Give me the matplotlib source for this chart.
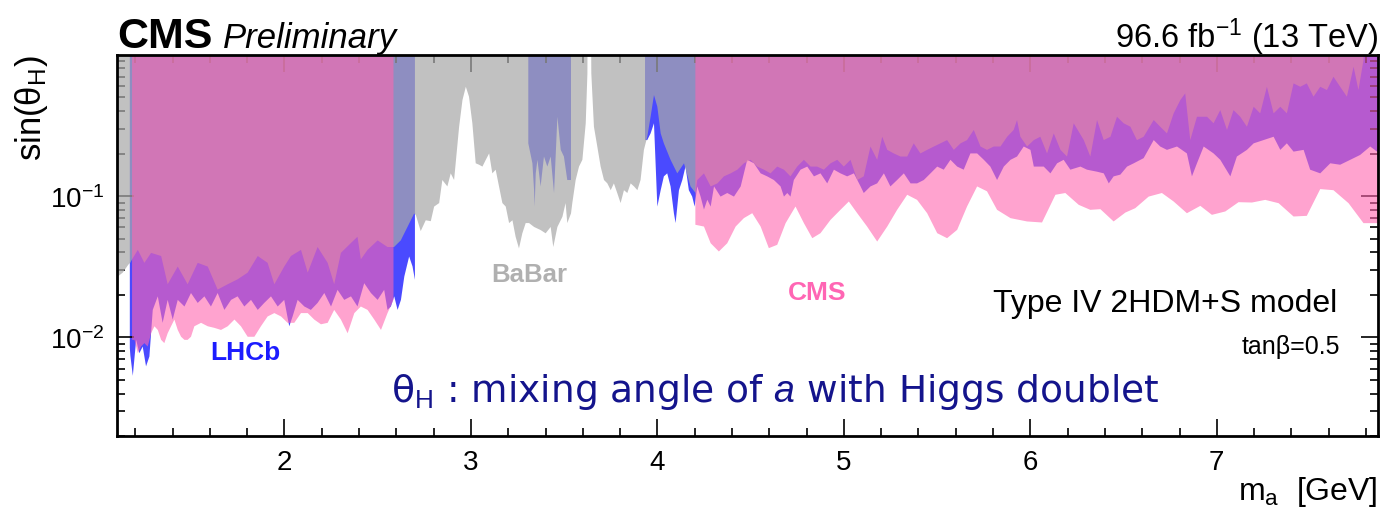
import numpy as np
import matplotlib
matplotlib.use("Agg")
import matplotlib.pyplot as plt
from matplotlib.ticker import MultipleLocator, LogLocator, NullFormatter

plt.rcParams['font.family'] = ['Liberation Sans', 'DejaVu Sans']
plt.rcParams['mathtext.fontset'] = 'custom'
plt.rcParams['mathtext.rm'] = 'Liberation Sans'
plt.rcParams['mathtext.it'] = 'Liberation Sans:italic'
plt.rcParams['mathtext.bf'] = 'Liberation Sans:bold'

# BaBar: excluded above this curve
babar_x = [1.100, 1.130, 1.160, 1.170, 1.180, 1.211, 1.246, 1.282, 1.336, 1.371,
           1.425, 1.478, 1.532, 1.586, 1.639, 1.693, 1.746, 1.800, 1.854, 1.907,
           1.943, 1.996, 2.032, 2.086, 2.122, 2.175, 2.229, 2.264, 2.300, 2.354,
           2.389, 2.407, 2.443, 2.497, 2.550, 2.585, 2.621, 2.657, 2.693, 2.702,
           2.728, 2.755, 2.782, 2.800, 2.827, 2.844, 2.871, 2.889, 2.907, 2.934,
           2.952, 2.970, 2.987, 3.005, 3.023, 3.041, 3.059, 3.077, 3.095, 3.112,
           3.130, 3.148, 3.166, 3.184, 3.202, 3.220, 3.237, 3.255, 3.273, 3.291,
           3.309, 3.336, 3.371, 3.398, 3.425, 3.439, 3.461, 3.488, 3.505, 3.514,
           3.534, 3.541, 3.559, 3.577, 3.595, 3.613, 3.622, 3.623, 3.641, 3.643,
           3.657, 3.675, 3.693, 3.711, 3.729, 3.747, 3.764, 3.782, 3.800, 3.818,
           3.836, 3.854, 3.872, 3.890, 3.907, 3.925, 3.943, 3.961, 3.979, 3.997,
           4.015, 4.032, 4.068, 4.104, 4.140, 4.175, 4.202, 4.211, 4.247, 4.283,
           4.319, 4.354, 4.390, 4.426, 4.461, 4.497, 4.533, 4.569, 4.604, 4.640,
           4.676, 4.711, 4.747, 4.783, 4.819, 4.854, 4.890, 4.926, 4.962, 4.997,
           5.033, 5.069, 5.104, 5.140, 5.176, 5.203, 5.230, 5.265, 5.301, 5.337,
           5.372, 5.408, 5.444, 5.480, 5.515, 5.551, 5.587, 5.623, 5.658, 5.694,
           5.730, 5.765, 5.801, 5.837, 5.873, 5.908, 5.926, 5.944, 5.980, 6.016,
           6.051, 6.087, 6.123, 6.159, 6.194, 6.230, 6.284, 6.319, 6.355, 6.391,
           6.427, 6.462, 6.498, 6.534, 6.569, 6.605, 6.659, 6.694, 6.730, 6.766,
           6.802, 6.828, 6.855, 6.891, 6.945, 6.980, 7.016, 7.052, 7.087, 7.123,
           7.159, 7.195, 7.230, 7.266, 7.302, 7.338, 7.373, 7.409, 7.445, 7.480,
           7.516, 7.552, 7.588, 7.623, 7.659, 7.695, 7.731, 7.757, 7.784, 7.793, 7.870]
babar_y = [0.027, 0.029, 0.033, 0.034, 0.036, 0.042, 0.034, 0.040, 0.038, 0.024,
           0.032, 0.024, 0.034, 0.032, 0.022, 0.024, 0.026, 0.029, 0.038, 0.034,
           0.024, 0.032, 0.038, 0.042, 0.029, 0.044, 0.034, 0.024, 0.040, 0.047,
           0.052, 0.036, 0.042, 0.049, 0.044, 0.044, 0.049, 0.061, 0.076, 0.074,
           0.057, 0.068, 0.067, 0.085, 0.090, 0.131, 0.118, 0.146, 0.131, 0.312,
           0.482, 0.598, 0.509, 0.330, 0.172, 0.168, 0.163, 0.182, 0.202, 0.146,
           0.155, 0.118, 0.090, 0.085, 0.065, 0.068, 0.052, 0.043, 0.055, 0.065,
           0.065, 0.061, 0.058, 0.055, 0.061, 0.044, 0.061, 0.072, 0.090, 0.065,
           0.076, 0.090, 0.131, 0.163, 0.182, 0.330, 0.743, 2.0, 2.0, 0.743,
           0.312, 0.226, 0.163, 0.131, 0.124, 0.111, 0.124, 0.106, 0.090, 0.111,
           0.106, 0.124, 0.118, 0.111, 0.131, 0.214, 0.265, 0.367, 0.523, 0.432,
           0.280, 0.238, 0.182, 0.146, 0.172, 0.118, 0.106, 0.131, 0.146, 0.118,
           0.124, 0.139, 0.146, 0.155, 0.172, 0.182, 0.163, 0.155, 0.146, 0.163,
           0.155, 0.139, 0.163, 0.182, 0.163, 0.163, 0.155, 0.172, 0.182, 0.163,
           0.182, 0.131, 0.139, 0.226, 0.182, 0.265, 0.214, 0.202, 0.192, 0.192,
           0.238, 0.202, 0.214, 0.226, 0.238, 0.251, 0.214, 0.238, 0.251, 0.296,
           0.226, 0.214, 0.226, 0.226, 0.265, 0.296, 0.348, 0.265, 0.226, 0.251,
           0.265, 0.202, 0.280, 0.214, 0.192, 0.330, 0.251, 0.192, 0.348, 0.251,
           0.265, 0.367, 0.330, 0.312, 0.251, 0.265, 0.348, 0.312, 0.280, 0.388,
           0.482, 0.537, 0.251, 0.367, 0.367, 0.330, 0.409, 0.296, 0.409, 0.367,
           0.312, 0.432, 0.388, 0.598, 0.388, 0.432, 0.388, 0.632, 0.598, 0.632,
           0.509, 0.598, 0.567, 0.704, 0.598, 0.509, 0.829, 0.567, 0.923, 2.0, 2.0]

# LHCb: three mass windows
lhcb_x1 = [1.168, 1.171, 1.184, 1.202, 1.219, 1.237, 1.255, 1.273, 1.291, 1.318,
           1.344, 1.371, 1.398, 1.425, 1.461, 1.496, 1.532, 1.568, 1.603, 1.639,
           1.675, 1.711, 1.746, 1.782, 1.818, 1.854, 1.889, 1.925, 1.961, 1.996,
           2.023, 2.041, 2.068, 2.104, 2.139, 2.175, 2.211, 2.247, 2.282, 2.318,
           2.354, 2.389, 2.425, 2.461, 2.497, 2.532, 2.550, 2.568, 2.586, 2.604,
           2.622, 2.640, 2.666, 2.684, 2.697]
lhcb_y1 = [0.0085, 0.0075, 0.0054, 0.0097, 0.0078, 0.0087, 0.0063, 0.0074, 0.0158, 0.0197,
           0.0128, 0.0186, 0.0135, 0.0186, 0.0167, 0.0208, 0.0177, 0.0197, 0.0167, 0.0208,
           0.0158, 0.0186, 0.0197, 0.0167, 0.0186, 0.0158, 0.0177, 0.0197, 0.0167, 0.0186,
           0.0121, 0.0142, 0.0186, 0.0167, 0.0158, 0.0177, 0.0208, 0.0167, 0.0219, 0.0186,
           0.0197, 0.0167, 0.0244, 0.0208, 0.0186, 0.0219, 0.0158, 0.0167, 0.0197, 0.0158,
           0.0186, 0.0272, 0.0377, 0.0321, 0.0258]
lhcb_x2 = [3.305, 3.327, 3.336, 3.339, 3.345, 3.354, 3.371, 3.389, 3.407, 3.425,
           3.443, 3.461, 3.479, 3.496, 3.514, 3.534]
lhcb_y2 = [0.238, 0.172, 0.111, 0.085, 0.146, 0.182, 0.118, 0.192, 0.163, 0.192,
           0.106, 0.367, 0.214, 0.192, 0.131, 0.131]
lhcb_x3 = [3.931, 3.943, 3.961, 3.979, 3.997, 4.015, 4.032, 4.050, 4.068, 4.086,
           4.095, 4.113, 4.131, 4.148, 4.166, 4.184, 4.197, 4.211, 4.229, 4.247,
           4.265, 4.283, 4.301, 4.336, 4.372, 4.408, 4.444, 4.479, 4.515, 4.551,
           4.586, 4.622, 4.658, 4.676, 4.694, 4.711, 4.729, 4.765, 4.801, 4.837,
           4.872, 4.908, 4.944, 4.979, 5.015, 5.051, 5.087, 5.104, 5.140, 5.176,
           5.212, 5.247, 5.283, 5.319, 5.355, 5.390, 5.426, 5.462, 5.498, 5.533,
           5.569, 5.605, 5.640, 5.676, 5.712, 5.748, 5.783, 5.819, 5.855, 5.891,
           5.926, 5.962, 5.998, 6.016, 6.069, 6.105, 6.141, 6.176, 6.212, 6.266,
           6.301, 6.355, 6.391, 6.418, 6.444, 6.480, 6.516, 6.552, 6.605, 6.659,
           6.694, 6.730, 6.784, 6.837, 6.864, 6.891, 6.927, 6.980, 7.016, 7.070,
           7.105, 7.159, 7.195, 7.248, 7.302, 7.338, 7.373, 7.409, 7.463, 7.498,
           7.552, 7.606, 7.659, 7.713, 7.766, 7.820, 7.870]
lhcb_y3 = [0.251, 0.251, 0.280, 0.330, 0.085, 0.111, 0.139, 0.146, 0.118, 0.076,
           0.065, 0.111, 0.131, 0.163, 0.111, 0.100, 0.085, 0.118, 0.100, 0.081,
           0.095, 0.085, 0.118, 0.100, 0.106, 0.100, 0.118, 0.182, 0.172, 0.146,
           0.139, 0.131, 0.118, 0.100, 0.106, 0.100, 0.131, 0.155, 0.163, 0.139,
           0.146, 0.124, 0.155, 0.146, 0.139, 0.146, 0.118, 0.106, 0.118, 0.124,
           0.146, 0.118, 0.131, 0.146, 0.124, 0.124, 0.131, 0.146, 0.163, 0.155,
           0.182, 0.163, 0.155, 0.202, 0.202, 0.182, 0.163, 0.131, 0.163, 0.182,
           0.192, 0.226, 0.214, 0.163, 0.163, 0.146, 0.172, 0.182, 0.155, 0.163,
           0.155, 0.150, 0.146, 0.124, 0.139, 0.143, 0.163, 0.172, 0.187, 0.251,
           0.226, 0.214, 0.226, 0.202, 0.139, 0.172, 0.226, 0.202, 0.182, 0.139,
           0.192, 0.214, 0.238, 0.251, 0.265, 0.214, 0.238, 0.208, 0.214, 0.155,
           0.146, 0.172, 0.168, 0.182, 0.197, 0.226, 0.202]

# CMS (this result): two mass windows
cms_x1 = [1.180, 1.193, 1.211, 1.228, 1.246, 1.264, 1.282, 1.300, 1.318, 1.336,
          1.353, 1.371, 1.389, 1.407, 1.425, 1.443, 1.461, 1.478, 1.496, 1.514,
          1.550, 1.586, 1.621, 1.657, 1.693, 1.729, 1.764, 1.800, 1.836, 1.871,
          1.907, 1.943, 1.979, 2.014, 2.050, 2.086, 2.122, 2.157, 2.193, 2.229,
          2.264, 2.300, 2.336, 2.372, 2.407, 2.443, 2.479, 2.515, 2.550, 2.582]
cms_y1 = [0.0097, 0.0097, 0.0078, 0.0087, 0.0092, 0.0087, 0.0108, 0.0121, 0.0114, 0.0097,
          0.0092, 0.0108, 0.0121, 0.0135, 0.0114, 0.0102, 0.0097, 0.0097, 0.0102, 0.0121,
          0.0128, 0.0121, 0.0118, 0.0114, 0.0121, 0.0135, 0.0121, 0.0102, 0.0102, 0.0121,
          0.0142, 0.0150, 0.0142, 0.0128, 0.0128, 0.0150, 0.0150, 0.0135, 0.0125, 0.0128,
          0.0158, 0.0135, 0.0108, 0.0150, 0.0167, 0.0158, 0.0135, 0.0114, 0.0150, 0.0186]
cms_x2 = [4.201, 4.247, 4.283, 4.327, 4.372, 4.417, 4.461, 4.506, 4.551, 4.595,
          4.640, 4.685, 4.738, 4.783, 4.828, 4.872, 4.926, 4.979, 5.024, 5.069,
          5.122, 5.176, 5.230, 5.283, 5.337, 5.390, 5.444, 5.498, 5.551, 5.605,
          5.658, 5.712, 5.765, 5.819, 5.891, 5.980, 6.060, 6.132, 6.185, 6.257,
          6.319, 6.373, 6.444, 6.507, 6.560, 6.632, 6.703, 6.766, 6.837, 6.909,
          6.971, 7.043, 7.114, 7.186, 7.257, 7.329, 7.409, 7.480, 7.552, 7.623,
          7.704, 7.784, 7.870]
cms_y2 = [0.0632, 0.0614, 0.0468, 0.0409, 0.0468, 0.0614, 0.0704, 0.0763, 0.0614, 0.0432,
          0.0456, 0.0649, 0.0851, 0.0649, 0.0508, 0.0551, 0.0685, 0.0806, 0.0923, 0.0763,
          0.0614, 0.0481, 0.0614, 0.0806, 0.103, 0.0948, 0.0763, 0.0551, 0.0508, 0.0582,
          0.0851, 0.118, 0.109, 0.0806, 0.0704, 0.0667, 0.0656, 0.103, 0.106, 0.0874,
          0.0806, 0.0815, 0.0667, 0.0771, 0.0828, 0.100, 0.106, 0.0923, 0.0763, 0.0860,
          0.0743, 0.0785, 0.0913, 0.0908, 0.0948, 0.0898, 0.0723, 0.0731, 0.113, 0.111,
          0.0898, 0.0649, 0.0649]

fig = plt.figure(figsize=(13.82, 5.10), dpi=100)
ax = fig.add_axes([0.0844, 0.1425, 0.9125, 0.7483])

top = 5.0
# LHCb blue (drawn first), BaBar grey over it, CMS pink on top
for xs, ys in [(lhcb_x1, lhcb_y1), (lhcb_x2, lhcb_y2), (lhcb_x3, lhcb_y3)]:
    ax.fill_between(xs, ys, top, color='#4a4aff', lw=0, zorder=1)
ax.fill_between(babar_x, babar_y, top, color='#a9a9a9', alpha=0.72, lw=0, zorder=2)
for xs, ys in [(cms_x1, cms_y1), (cms_x2, cms_y2)]:
    ax.fill_between(xs, ys, top, color='#ff66af', alpha=0.6, lw=0, zorder=3)

ax.set_yscale('log')
ax.set_xlim(1.1, 7.863)
ax.set_ylim(0.002, 1.0)

ax.xaxis.set_major_locator(MultipleLocator(1))
ax.xaxis.set_minor_locator(MultipleLocator(0.2))
ax.set_yticks([0.01, 0.1])
ax.set_yticklabels(['$10^{-2}$', '$10^{-1}$'])
ax.yaxis.set_minor_locator(LogLocator(base=10, subs=np.arange(2, 10)))
ax.yaxis.set_minor_formatter(NullFormatter())

ax.tick_params(which='both', direction='in', top=True, right=True, labelsize=20, width=1.2)
ax.tick_params(which='major', length=12, pad=9)
ax.tick_params(which='minor', length=6)
for sp in ax.spines.values():
    sp.set_linewidth(2)
    sp.set_zorder(5)

ax.set_xlabel('m$_{\\mathrm{a}}$  [GeV]', fontsize=23, loc='right')
ax.xaxis.set_label_coords(1.0, -0.1)
ax.set_ylabel('sin(θ$_{\\mathrm{H}}$)', fontsize=25, loc='top')
ax.yaxis.set_label_coords(-0.053, 1.0)

# header
fig.text(0.0845, 0.906, 'CMS', fontsize=31, fontweight='bold', va='baseline')
fig.text(0.161, 0.906, 'Preliminary', fontsize=25, style='italic', va='baseline')
fig.text(0.9969, 0.906, '96.6 fb$^{-1}$ (13 TeV)', fontsize=23.5, ha='right', va='baseline')

# annotations
ax.text(0.1017, 0.203, 'LHCb', transform=ax.transAxes, fontsize=19, fontweight='bold',
        color='#1c1cff', ha='center', va='baseline', zorder=6)
ax.text(0.327, 0.407, 'BaBar', transform=ax.transAxes, fontsize=18.5, fontweight='bold',
        color='#b0b0b0', ha='center', va='baseline', zorder=6)
ax.text(0.5553, 0.36, 'CMS', transform=ax.transAxes, fontsize=19, fontweight='bold',
        color='#ff66b4', ha='center', va='baseline', zorder=6)
ax.text(0.9677, 0.328, 'Type IV 2HDM+S model', transform=ax.transAxes, fontsize=23,
        ha='right', va='baseline', zorder=6)
ax.text(0.970, 0.2186, 'tanβ=0.5', transform=ax.transAxes, fontsize=18,
        ha='right', va='baseline', zorder=6)
ax.text(0.522, 0.093, 'θ$_{\\mathrm{H}}$ : mixing angle of $a$ with Higgs doublet',
        transform=ax.transAxes, fontsize=27, family=['DejaVu Sans'],
        color='#14148c', ha='center', va='baseline', zorder=6)

fig.savefig('out.png', dpi=100)
